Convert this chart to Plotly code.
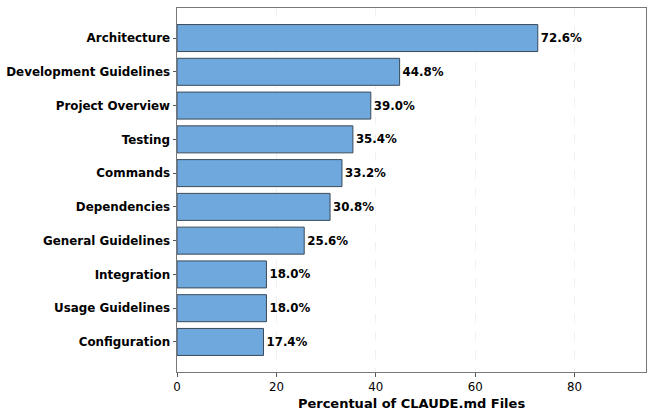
import plotly.graph_objects as go

categories = ["Architecture", "Development Guidelines", "Project Overview", "Testing",
              "Commands", "Dependencies", "General Guidelines", "Integration",
              "Usage Guidelines", "Configuration"]
values = [72.6, 44.8, 39.0, 35.4, 33.2, 30.8, 25.6, 18.0, 18.0, 17.4]
labels = [f"{v:.1f}%" for v in values]
x_ticks = [0, 20, 40, 60, 80]

font = "DejaVu Sans"
fig = go.Figure(go.Bar(
    x=values, y=categories, orientation="h", width=0.8,
    marker=dict(color="#6fa8dc", line=dict(color="#3a4a5a", width=1)),
    text=labels, textposition="outside", cliponaxis=False,
    textfont=dict(family=font, size=11.8, color="black", weight="bold"),
))
n = len(categories)
fig.update_layout(
    width=647, height=412,
    margin=dict(l=177, r=1, t=8, b=40),
    plot_bgcolor="white", paper_bgcolor="white",
    showlegend=False,
    font=dict(family=font, color="black"),
    xaxis=dict(range=[0, max(values) * 1.3], tickvals=x_ticks, automargin=False,
               tickfont=dict(size=11.8), ticks="outside", ticklen=3.5, tickcolor="#555",
               showgrid=True, gridcolor="rgba(0,0,0,0.06)", griddash="dash", gridwidth=1,
               showline=True, linecolor="#777", linewidth=1, mirror=True, zeroline=False,
               title=dict(text="Percentual of CLAUDE.md Files",
                          font=dict(size=13, weight="bold"), standoff=6)),
    yaxis=dict(range=[n - 1 + 0.89, -0.89], tickfont=dict(size=11.9, weight="bold"),
               automargin=False,
               ticks="outside", ticklen=3.5, tickcolor="#555",
               showline=True, linecolor="#777", linewidth=1, mirror=True,
               showgrid=False, zeroline=False),
    bargap=0.2,
)
fig.write_html("out.html", config={"displayModeBar": False},
               post_script="document.body.style.margin='0';")
